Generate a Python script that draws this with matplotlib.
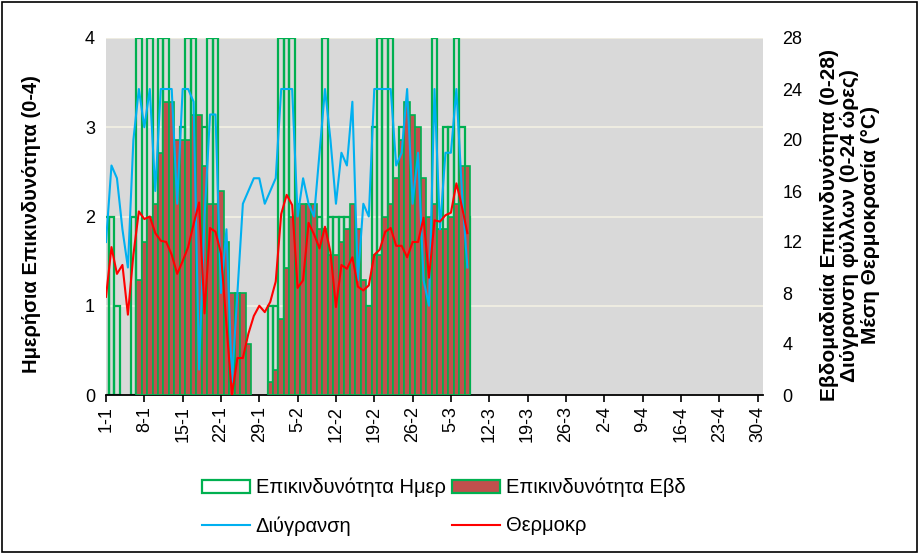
import numpy as np
import matplotlib.pyplot as plt
from matplotlib.patches import Rectangle, Patch
from matplotlib.lines import Line2D

plt.rcParams['font.family'] = ['Liberation Sans', 'DejaVu Sans']

# x tick labels (every 7 days, 1-1 .. 30-4)
tick_labels = ['1-1', '8-1', '15-1', '22-1', '29-1', '5-2', '12-2', '19-2', '26-2',
               '5-3', '12-3', '19-3', '26-3', '2-4', '9-4', '16-4', '23-4', '30-4']
n_days = 120

# daily risk (0-4), one value per day from 1-1
daily_risk = [2, 2, 1, 0, 0, 2, 4, 1, 4, 2,
              4, 4, 2, 2, 3, 4, 4, 0, 3, 4,
              4, 1, 1, 0, 0, 0, 0, 0, 0, 0,
              1, 1, 4, 4, 4, 2, 2, 2, 2, 2,
              4, 2, 2, 2, 2, 2, 1, 1, 1, 3,
              4, 4, 4, 2, 3, 3, 3, 2, 1, 1,
              4, 1, 3, 3, 4, 3, 2]

# weekly risk (0-28), None where no bar
weekly_risk = [None, None, None, None, None, None, 9, 12, 14, 15,
               19, 23, 23, 20, 20, 20, 22, 22, 18, 15,
               15, 16, 12, 8, 8, 8, 4, 0, 0, 0,
               1, 2, 6, 10, 14, 15, 15, 15, 15, 13,
               13, 11, 11, 12, 13, 15, 13, 9, 7, 11,
               11, 14, 15, 17, 20, 23, 22, 21, 17, 14,
               15, 13, 13, 14, 15, 18, 18]

# leaf wetness hours (0-24)
wetness = [12, 18, 17, 13, 10, 20, 24, 21, 24, 16,
           24, 24, 24, 15, 24, 24, 23, 2, 14, 22,
           22, 8, 13, 1, 8, 15, 16, 17, 17, 15,
           16, 17, 24, 24, 24, 14, 17, 15, 14, 19,
           24, 20, 15, 19, 18, 23, 9, 15, 14, 24,
           24, 24, 24, 18, 19, 24, 15, 19, 9, 7,
           24, 13, 19, 19, 24, 16, 10]

# mean temperature (C)
temperature = [7.7, 11.6, 9.5, 10.2, 6.3, 11.0, 14.4, 13.8, 14.0, 12.7,
               12.1, 12.0, 11.0, 9.5, 10.5, 11.6, 13.4, 15.1, 6.4, 13.1,
               12.8, 11.1, 5.5, 0.0, 2.9, 2.9, 4.8, 6.2, 7.0, 6.5,
               7.3, 8.9, 14.2, 15.7, 14.9, 8.4, 9.0, 13.5, 12.6, 11.5,
               13.2, 11.2, 6.9, 10.2, 9.9, 10.8, 8.5, 8.2, 8.6, 11.0,
               11.4, 12.8, 13.1, 11.7, 11.7, 10.8, 12.0, 12.0, 13.9, 9.2,
               13.7, 13.6, 14.1, 14.3, 16.6, 14.8, 12.7]

green = '#00b050'
brick = '#c0504d'
blue = '#00b0f0'
red = '#ff0000'

x = np.arange(len(daily_risk))
d = np.array(daily_risk, dtype=float)
w = np.array([np.nan if v is None else v for v in weekly_risk], dtype=float)

fig = plt.figure(figsize=(9.19, 5.54), dpi=100)
ax1 = fig.add_axes([106 / 919, 1 - 395 / 554, 657 / 919, 357 / 554])
ax1.set_facecolor('#d9d9d9')

# daily bars (outline only)
m = d > 0
ax1.bar(x[m], d[m], width=1.0, facecolor='none', edgecolor=green, linewidth=1.6, zorder=2)
ax1.set_ylim(0, 4)
ax1.set_yticks([0, 1, 2, 3, 4])
ax1.yaxis.grid(True, color='#eeece1', linewidth=1.5, zorder=0)
ax1.set_axisbelow(True)
ax1.set_xlim(0, n_days)
ax1.set_xticks(np.arange(0, n_days, 7))
ax1.set_xticklabels(tick_labels, rotation=90, fontsize=13)
ax1.tick_params(axis='x', length=5, width=1.2, direction='out', pad=3)
ax1.tick_params(axis='y', length=0, labelsize=13, pad=8)
ax1.set_ylabel('Ημερήσια Επικινδυνότητα (0-4)', fontsize=14.5, fontweight='bold')
ax1.yaxis.label.set_va('center')
ax1.yaxis.set_label_coords(-0.114, 0.478)
for s in ['top', 'left', 'right']:
    ax1.spines[s].set_visible(False)
ax1.spines['bottom'].set_linewidth(1.3)

ax2 = ax1.twinx()
mw = ~np.isnan(w) & (w > 0)
ax2.bar(x[mw], w[mw], width=1.0, color=brick, edgecolor=green, linewidth=1.2, zorder=2)
ax2.plot(x, wetness, color=blue, linewidth=1.5, zorder=3)
ax2.plot(x, temperature, color=red, linewidth=1.5, zorder=4)
ax2.set_ylim(0, 28)
ax2.set_yticks(np.arange(0, 29, 4))
ax2.tick_params(axis='y', length=0, labelsize=13, pad=14)
ax2.set_ylabel('Εβδομαδιαία Επικινδυνότητα (0-28)\nΔιύγρανση φύλλων (0-24 ώρες)\nΜέση Θερμοκρασία (°C)',
               fontsize=15, fontweight='bold', linespacing=1.1)
ax2.yaxis.label.set_va('center')
ax2.yaxis.set_label_coords(1.132, 0.476)
for s in ['top', 'left', 'right', 'bottom']:
    ax2.spines[s].set_visible(False)

handles = [Patch(facecolor='white', edgecolor=green, linewidth=1.6),
           Line2D([], [], color=blue, linewidth=1.5),
           Patch(facecolor=brick, edgecolor=green, linewidth=1.6),
           Line2D([], [], color=red, linewidth=1.5)]
labels = ['Επικινδυνότητα Ημερ', 'Διύγρανση', 'Επικινδυνότητα Εβδ', 'Θερμοκρ']
fig.legend(handles, labels, ncol=2, loc='center', bbox_to_anchor=(0.483, 0.085),
           frameon=False, fontsize=14.5, handlelength=2.37, handleheight=0.6,
           labelspacing=0.95, columnspacing=0.33, handletextpad=0.28)

fig.patches.append(Rectangle((0.002, 0.003), 0.996, 0.994, transform=fig.transFigure,
                             fill=False, edgecolor='black', linewidth=1.2))

fig.savefig('out.png', dpi=100)
